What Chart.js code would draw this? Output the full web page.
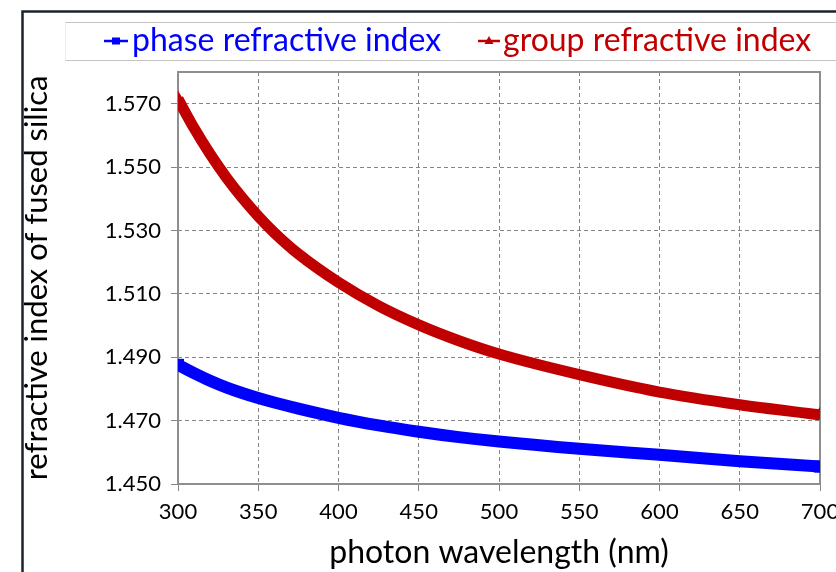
<!DOCTYPE html>
<html>
<head>
<meta charset="utf-8">
<script src="https://cdn.jsdelivr.net/npm/chart.js@4"></script>
<style>
  html, body { margin: 0; padding: 0; background: #fff; }
</style>
</head>
<body>
<canvas id="grafico" width="836" height="572"></canvas>
<script>
// longitud de onda (nm) y los dos indices
const longitudes = [300, 310, 320, 330, 340, 350, 360, 375, 400, 425, 450, 475, 500, 550, 600, 650, 700];
const indiceFase = [1.4876, 1.4850, 1.4826, 1.4805, 1.4787, 1.4771, 1.4757, 1.4738, 1.4709, 1.4685, 1.4665, 1.4648, 1.4634, 1.4611, 1.4592, 1.4572, 1.4555];
const indiceGrupo = [1.5715, 1.5623, 1.5541, 1.5468, 1.5403, 1.5345, 1.5293, 1.5226, 1.5136, 1.5062, 1.5002, 1.4952, 1.4910, 1.4845, 1.4790, 1.4750, 1.4718];
const ticksX = [300, 350, 400, 450, 500, 550, 600, 650, 700];
const ticksY = [1.450, 1.470, 1.490, 1.510, 1.530, 1.550, 1.570];

const puntos = (ys) => longitudes.map((x, i) => ({ x: x, y: ys[i] }));
const soloExtremos = (r) => longitudes.map((_, i) => (i === 0 || i === longitudes.length - 1) ? r : 0);

const fuente = "Lato, 'Open Sans', sans-serif";

// marco exterior, caja de la leyenda y borde del area de trazado
const marco = {
  id: "marco",
  beforeDraw(chart) {
    const c = chart.ctx;
    c.save();
    c.fillStyle = "#fff";
    c.fillRect(0, 0, chart.width, chart.height);
    c.strokeStyle = "#1c2230";
    c.lineWidth = 2.5;
    c.strokeRect(22.5, 11.5, 900, 700);
    c.strokeStyle = "#c4c4c4";
    c.lineWidth = 1;
    c.beginPath();
    c.moveTo(65, 22.5); c.lineTo(836, 22.5);
    c.moveTo(65, 60.5); c.lineTo(836, 60.5);
    c.stroke();
    c.strokeStyle = "#ececec";
    c.beginPath();
    c.moveTo(65.5, 22.5); c.lineTo(65.5, 60.5);
    c.stroke();
    c.restore();
  },
  beforeDatasetsDraw(chart) {
    const a = chart.chartArea;
    const c = chart.ctx;
    c.save();
    c.strokeStyle = "#8e8e8e";
    c.lineWidth = 2;
    c.strokeRect(a.left, a.top, a.right - a.left, a.bottom - a.top);
    c.restore();
  },
  afterDraw(chart) {
    const c = chart.ctx;
    const items = [
      { ds: chart.data.datasets[0], x0: 104, x1: 128, tx: 132 },
      { ds: chart.data.datasets[1], x0: 478, x1: 500, tx: 503 },
    ];
    const y = 41;
    c.save();
    items.forEach((it) => {
      const ds = it.ds;
      const cx = (it.x0 + it.x1) / 2;
      c.strokeStyle = ds.borderColor;
      c.lineWidth = 2.5;
      c.beginPath();
      c.moveTo(it.x0, y);
      c.lineTo(it.x1, y);
      c.stroke();
      c.fillStyle = ds.borderColor;
      c.beginPath();
      if (ds.pointStyle === "rect") {
        c.rect(cx - 4, y - 3.5, 8, 7);
      } else {
        c.moveTo(cx, y - 5);
        c.lineTo(cx + 4.5, y + 3);
        c.lineTo(cx - 4.5, y + 3);
        c.closePath();
      }
      c.fill();
      c.font = "32px " + fuente;
      c.textBaseline = "middle";
      c.fillText(ds.label, it.tx, y);
    });
    c.restore();
  },
};

const grafico = new Chart(document.querySelector("#grafico").getContext("2d"), {
  type: "line",
  data: {
    datasets: [
      {
        label: "phase refractive index",
        data: puntos(indiceFase),
        borderColor: "#0000ff",
        backgroundColor: "#0000ff",
        borderWidth: 12,
        borderCapStyle: "butt",
        pointStyle: "rect",
        pointRadius: soloExtremos(8.5),
        pointBorderWidth: 0,
        cubicInterpolationMode: "monotone",
      },
      {
        label: "group refractive index",
        data: puntos(indiceGrupo),
        borderColor: "#c00000",
        backgroundColor: "#c00000",
        borderWidth: 11,
        borderCapStyle: "butt",
        pointStyle: "triangle",
        pointRadius: soloExtremos(8.5),
        pointBorderWidth: 0,
        cubicInterpolationMode: "monotone",
      },
    ],
  },
  options: {
    responsive: false,
    animation: false,
    layout: { padding: { top: 72, right: 16, bottom: 0, left: 0 } },
    plugins: {
      legend: { display: false },
      tooltip: { enabled: false },
    },
    scales: {
      x: {
        type: "linear",
        min: 300,
        max: 700,
        afterBuildTicks: (eje) => { eje.ticks = ticksX.map((v) => ({ value: v })); },
        afterFit: (eje) => { eje.height = 88; eje.paddingLeft = 0; eje.paddingRight = 0; },
        ticks: {
          color: "#000",
          font: { family: fuente, size: 22 },
          padding: 8,
          maxRotation: 0,
        },
        grid: {
          color: "#858585",
          lineWidth: 1,
          tickLength: 7,
          tickColor: "#858585",
          tickBorderDash: [],
        },
        border: { display: false, dash: [4, 3] },
        title: {
          display: true,
          text: "photon wavelength (nm)",
          color: "#000",
          font: { family: fuente, size: 32 },
          padding: { top: 0, bottom: 0 },
        },
      },
      y: {
        min: 1.45,
        max: 1.58,
        afterBuildTicks: (eje) => { eje.ticks = ticksY.map((v) => ({ value: v })); },
        afterFit: (eje) => { eje.width = 178; },
        ticks: {
          color: "#000",
          font: { family: fuente, size: 22 },
          padding: 10,
          callback: (v) => Number(v).toFixed(3),
        },
        grid: {
          color: "#858585",
          lineWidth: 1,
          tickLength: 7,
          tickColor: "#858585",
          tickBorderDash: [],
        },
        border: { display: false, dash: [4, 3] },
        title: {
          display: true,
          text: "refractive index of fused silica",
          color: "#000",
          font: { family: fuente, size: 31 },
          padding: { top: 18, bottom: 0 },
        },
      },
    },
  },
  plugins: [marco],
});
</script>
</body>
</html>
